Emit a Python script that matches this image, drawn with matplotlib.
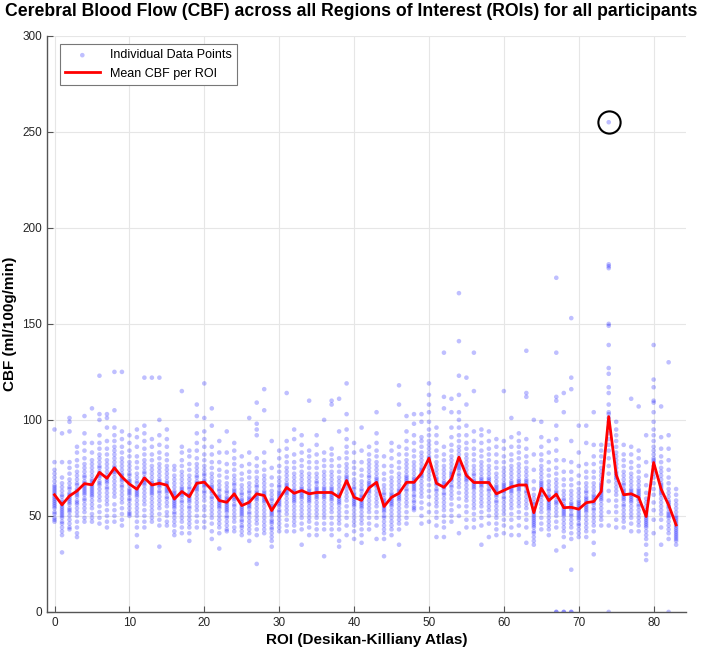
import numpy as np
import matplotlib
matplotlib.use('Agg')
import matplotlib.pyplot as plt

plt.rcParams['font.family'] = ['Liberation Sans', 'DejaVu Sans']

# ROI index 0..83
rois = list(range(84))

# mean CBF per ROI (red line)
mean_cbf = [61.0, 55.8, 60.4, 63.0, 66.8, 66.2, 72.7, 69.6, 75.0, 70.3,
            66.6, 63.9, 69.8, 66.1, 67.0, 66.0, 58.8, 62.7, 60.0, 67.0,
            67.6, 63.5, 58.0, 57.1, 61.5, 55.4, 57.1, 61.5, 60.6, 52.8,
            58.9, 64.8, 61.8, 63.2, 61.5, 62.2, 62.2, 62.2, 59.7, 68.4,
            59.7, 58.1, 64.6, 67.5, 54.9, 59.7, 61.8, 67.5, 67.5, 72.2,
            80.0, 67.0, 64.9, 69.3, 80.6, 71.1, 67.4, 67.4, 67.4, 61.5,
            63.3, 65.1, 66.1, 66.1, 51.7, 64.4, 58.0, 61.3, 54.3, 54.5,
            53.5, 56.9, 57.5, 62.7, 101.7, 71.4, 61.0, 61.5, 59.7, 49.7,
            77.8, 63.9, 55.7, 45.3]

# individual participant values per ROI
cbf_points = [
    [47, 48, 49, 51, 52, 54, 55, 56, 57, 58, 59, 60, 61, 62, 63, 64, 65, 66, 68, 70, 72, 74, 78, 95],
    [31, 40, 42, 44, 46, 47, 49, 50, 51, 52, 53, 54, 55, 56, 57, 58, 60, 61, 63, 65, 67, 70, 78, 93],
    [43, 44, 46, 48, 50, 52, 53, 54, 56, 57, 58, 59, 60, 61, 62, 64, 65, 67, 69, 72, 75, 78, 94, 99, 101],
    [39, 41, 44, 47, 50, 52, 54, 56, 57, 58, 60, 61, 62, 63, 64, 66, 67, 69, 71, 73, 76, 79, 83, 86],
    [47, 49, 52, 54, 56, 58, 59, 61, 62, 63, 64, 65, 66, 67, 68, 70, 71, 73, 75, 77, 80, 84, 88, 93, 102],
    [47, 49, 51, 54, 56, 58, 60, 61, 62, 63, 64, 65, 66, 67, 68, 69, 71, 73, 75, 77, 79, 83, 88, 106],
    [46, 49, 52, 55, 58, 60, 62, 64, 66, 67, 68, 70, 71, 72, 73, 75, 76, 78, 80, 82, 85, 88, 92, 100, 103, 123],
    [44, 47, 50, 53, 56, 58, 60, 62, 64, 65, 67, 68, 69, 70, 71, 73, 75, 77, 79, 82, 85, 89, 96, 101, 103],
    [47, 50, 53, 56, 60, 62, 64, 66, 68, 70, 72, 73, 74, 75, 76, 78, 80, 82, 84, 86, 89, 92, 96, 105, 125],
    [45, 48, 51, 54, 57, 59, 61, 63, 65, 66, 68, 69, 70, 71, 72, 74, 76, 78, 80, 83, 86, 90, 94, 125],
    [50, 51, 52, 54, 56, 58, 59, 61, 62, 63, 64, 66, 67, 68, 69, 71, 72, 74, 76, 78, 81, 84, 88, 92],
    [34, 40, 44, 47, 50, 52, 54, 56, 58, 60, 61, 62, 63, 64, 65, 67, 68, 70, 72, 75, 78, 81, 86, 91, 95],
    [44, 47, 50, 53, 56, 58, 60, 62, 64, 66, 67, 68, 69, 70, 72, 73, 75, 77, 79, 82, 85, 89, 93, 97, 122],
    [47, 49, 51, 53, 55, 57, 59, 61, 62, 63, 64, 65, 66, 67, 68, 70, 72, 74, 76, 79, 82, 86, 90, 122],
    [34, 45, 48, 51, 54, 56, 58, 60, 62, 63, 65, 66, 67, 68, 69, 71, 73, 75, 77, 80, 83, 87, 92, 100, 122],
    [45, 47, 50, 52, 55, 57, 59, 60, 62, 63, 64, 65, 66, 67, 68, 70, 72, 74, 76, 79, 82, 86, 90, 95],
    [40, 42, 45, 47, 49, 51, 52, 54, 55, 56, 57, 58, 59, 60, 61, 62, 63, 65, 67, 69, 71, 74, 76],
    [41, 44, 47, 49, 51, 53, 55, 57, 58, 60, 61, 62, 63, 64, 65, 67, 69, 71, 73, 76, 79, 83, 86, 115],
    [37, 41, 44, 46, 48, 50, 52, 54, 55, 57, 58, 59, 60, 61, 62, 64, 65, 67, 69, 71, 74, 77, 81, 84],
    [44, 47, 50, 53, 55, 57, 59, 61, 63, 64, 65, 66, 67, 68, 70, 71, 73, 75, 77, 80, 84, 88, 93, 102, 108],
    [44, 47, 50, 53, 55, 58, 60, 62, 63, 65, 66, 67, 68, 69, 71, 72, 74, 76, 79, 82, 86, 90, 94, 101, 119],
    [38, 42, 46, 49, 51, 53, 55, 57, 59, 60, 62, 63, 64, 65, 66, 68, 70, 72, 75, 78, 82, 86, 97, 106],
    [33, 41, 44, 46, 48, 50, 52, 54, 55, 56, 57, 58, 59, 60, 61, 63, 64, 66, 68, 71, 74, 78, 83, 89],
    [42, 43, 45, 47, 49, 50, 52, 53, 54, 55, 56, 57, 58, 59, 60, 62, 63, 65, 67, 70, 73, 77, 83, 94],
    [42, 44, 47, 49, 51, 53, 55, 56, 58, 59, 60, 61, 62, 63, 64, 66, 67, 69, 71, 74, 77, 80, 84, 88],
    [40, 42, 44, 45, 47, 48, 50, 51, 52, 53, 54, 55, 56, 57, 58, 59, 61, 62, 64, 66, 69, 72, 76, 81],
    [37, 41, 43, 45, 47, 49, 51, 52, 54, 55, 56, 57, 58, 59, 60, 62, 63, 65, 67, 70, 73, 77, 83, 101],
    [25, 40, 43, 46, 48, 50, 52, 54, 56, 58, 59, 60, 61, 62, 63, 65, 66, 68, 70, 73, 76, 80, 92, 95, 98, 109],
    [41, 43, 45, 47, 49, 51, 53, 55, 57, 58, 59, 60, 61, 62, 63, 65, 67, 69, 71, 74, 78, 83, 105, 116],
    [34, 37, 39, 41, 43, 44, 46, 47, 48, 50, 51, 52, 53, 54, 55, 56, 58, 59, 61, 63, 66, 70, 75, 89],
    [42, 44, 46, 48, 50, 52, 53, 55, 56, 57, 58, 59, 60, 61, 62, 63, 65, 66, 68, 70, 73, 76, 80, 84],
    [42, 45, 48, 51, 53, 55, 57, 59, 61, 62, 63, 64, 65, 66, 67, 69, 71, 73, 75, 78, 81, 85, 89, 114],
    [42, 45, 47, 49, 51, 53, 55, 57, 58, 59, 60, 61, 62, 63, 64, 66, 68, 70, 72, 75, 78, 82, 90, 95],
    [35, 43, 46, 49, 51, 53, 55, 57, 59, 60, 61, 62, 63, 64, 65, 67, 69, 71, 73, 76, 79, 83, 87, 92],
    [40, 44, 47, 49, 51, 53, 55, 57, 58, 59, 60, 61, 62, 63, 64, 66, 68, 70, 72, 75, 78, 81, 84, 110],
    [40, 43, 46, 49, 51, 53, 55, 57, 59, 60, 61, 62, 63, 64, 65, 67, 68, 70, 72, 75, 78, 82, 87, 92],
    [29, 43, 46, 49, 51, 53, 55, 57, 59, 60, 61, 62, 63, 64, 65, 67, 69, 71, 73, 76, 79, 83, 100],
    [40, 43, 46, 49, 52, 54, 56, 58, 59, 60, 61, 62, 63, 64, 65, 67, 69, 71, 73, 76, 79, 82, 85, 108, 110],
    [34, 37, 43, 46, 48, 50, 52, 54, 56, 57, 58, 59, 60, 61, 62, 64, 66, 68, 70, 73, 76, 80, 94, 111],
    [40, 45, 49, 52, 55, 58, 60, 62, 64, 66, 67, 68, 69, 70, 71, 73, 75, 77, 80, 83, 86, 90, 95, 103, 119],
    [38, 42, 45, 47, 49, 51, 53, 55, 56, 57, 58, 59, 60, 61, 62, 64, 65, 67, 69, 72, 75, 78, 83, 88],
    [36, 40, 43, 46, 48, 50, 52, 54, 55, 56, 57, 58, 59, 60, 61, 63, 64, 66, 68, 71, 74, 78, 84, 96],
    [43, 46, 49, 52, 54, 56, 58, 60, 62, 63, 64, 65, 66, 67, 68, 70, 71, 73, 75, 77, 79, 82, 86],
    [38, 45, 49, 52, 55, 57, 59, 61, 63, 65, 66, 67, 68, 69, 70, 72, 74, 76, 78, 81, 84, 88, 93, 104],
    [29, 38, 41, 43, 45, 47, 49, 50, 52, 53, 54, 55, 56, 57, 58, 59, 61, 62, 64, 66, 69, 72, 76, 81],
    [40, 43, 45, 47, 49, 51, 53, 55, 56, 57, 58, 59, 60, 61, 62, 64, 66, 68, 70, 73, 76, 80, 84, 88],
    [35, 43, 46, 48, 50, 52, 54, 56, 58, 59, 60, 61, 62, 63, 64, 66, 68, 70, 72, 75, 78, 82, 86, 108, 118],
    [46, 49, 52, 55, 57, 59, 61, 63, 64, 66, 67, 68, 69, 70, 71, 73, 75, 77, 79, 82, 85, 89, 94, 102],
    [53, 54, 55, 57, 58, 60, 61, 63, 64, 65, 66, 67, 68, 69, 70, 72, 74, 76, 78, 81, 84, 88, 92, 98, 103],
    [46, 50, 54, 57, 60, 62, 64, 66, 68, 70, 71, 72, 73, 74, 75, 77, 79, 81, 83, 86, 89, 91, 99, 103],
    [47, 52, 56, 60, 63, 66, 69, 71, 73, 75, 77, 79, 80, 81, 83, 85, 87, 89, 92, 95, 99, 104, 108, 113, 119],
    [39, 45, 49, 52, 55, 57, 59, 61, 63, 64, 66, 67, 68, 69, 70, 72, 74, 76, 78, 81, 84, 88, 92, 96],
    [39, 44, 47, 50, 53, 55, 57, 59, 61, 62, 64, 65, 66, 67, 68, 70, 72, 74, 76, 79, 82, 86, 106, 112, 135],
    [47, 50, 53, 56, 59, 61, 63, 65, 66, 68, 69, 70, 71, 72, 73, 75, 77, 79, 81, 84, 87, 91, 96, 104, 111],
    [41, 50, 55, 59, 62, 65, 67, 69, 71, 72, 74, 75, 76, 77, 78, 80, 82, 84, 86, 89, 92, 96, 100, 104, 113, 123, 141, 166],
    [44, 48, 52, 55, 58, 60, 62, 64, 66, 68, 69, 70, 71, 72, 74, 76, 78, 80, 82, 85, 88, 92, 97, 108, 122],
    [44, 48, 51, 54, 56, 58, 60, 62, 64, 65, 66, 67, 68, 69, 71, 72, 74, 76, 79, 82, 85, 89, 94, 115, 135],
    [35, 45, 49, 52, 55, 57, 59, 61, 63, 65, 66, 67, 68, 69, 70, 72, 74, 76, 78, 81, 84, 88, 92, 95],
    [39, 46, 50, 53, 55, 57, 59, 61, 63, 64, 66, 67, 68, 69, 70, 72, 74, 76, 79, 82, 85, 89, 94],
    [40, 43, 46, 49, 51, 53, 55, 57, 58, 60, 61, 62, 63, 64, 65, 66, 68, 70, 72, 75, 78, 82, 86, 90],
    [41, 45, 48, 51, 53, 55, 57, 59, 60, 62, 63, 64, 65, 66, 67, 69, 71, 73, 75, 78, 81, 85, 89, 115],
    [40, 44, 48, 51, 54, 56, 58, 60, 62, 63, 64, 65, 66, 67, 68, 70, 72, 74, 76, 79, 82, 86, 91, 101],
    [40, 45, 49, 52, 55, 57, 59, 61, 63, 64, 65, 66, 67, 68, 69, 71, 73, 75, 77, 80, 83, 86, 89, 93],
    [36, 44, 48, 51, 54, 56, 58, 60, 62, 63, 65, 66, 67, 68, 69, 71, 73, 75, 78, 81, 85, 90, 112, 114, 136],
    [35, 37, 39, 41, 42, 44, 45, 46, 47, 48, 49, 50, 51, 52, 53, 54, 56, 57, 59, 61, 64, 68, 74, 82, 100],
    [43, 46, 49, 52, 54, 56, 58, 60, 61, 63, 64, 65, 66, 67, 68, 70, 72, 74, 76, 79, 82, 86, 91, 99],
    [40, 43, 45, 47, 49, 51, 53, 54, 55, 56, 57, 58, 59, 60, 61, 63, 64, 66, 68, 71, 74, 78, 83, 89],
    [0, 0, 32, 44, 47, 50, 52, 54, 56, 57, 58, 60, 61, 62, 63, 65, 67, 69, 72, 75, 79, 84, 90, 97, 110, 112, 135, 174],
    [0, 0, 34, 39, 42, 44, 46, 48, 50, 51, 52, 53, 54, 55, 56, 58, 59, 61, 63, 66, 69, 73, 79, 104, 114],
    [0, 0, 22, 38, 41, 44, 46, 48, 50, 51, 53, 54, 55, 56, 57, 59, 61, 63, 66, 69, 73, 78, 89, 116, 122, 153],
    [39, 41, 43, 45, 46, 48, 49, 50, 51, 52, 53, 54, 55, 56, 57, 58, 60, 62, 64, 67, 71, 76, 83, 97],
    [39, 42, 44, 46, 48, 50, 52, 53, 54, 55, 56, 57, 58, 59, 60, 62, 63, 65, 67, 70, 73, 77, 88, 97],
    [30, 36, 42, 45, 47, 49, 51, 53, 54, 56, 57, 58, 59, 60, 61, 63, 65, 67, 70, 73, 77, 81, 87, 104],
    [45, 48, 50, 52, 54, 56, 58, 59, 60, 61, 62, 63, 64, 65, 66, 67, 69, 71, 73, 75, 78, 81, 84, 87],
    [0, 45, 52, 58, 63, 68, 72, 76, 80, 84, 87, 90, 93, 96, 99, 101, 103, 104, 108, 114, 117, 124, 127, 139, 149, 150, 179, 180, 181, 255],
    [44, 48, 52, 55, 58, 61, 63, 65, 67, 69, 70, 71, 72, 73, 75, 77, 79, 81, 83, 86, 89, 92, 95, 99],
    [44, 47, 49, 51, 53, 55, 56, 58, 59, 60, 61, 62, 63, 64, 66, 67, 69, 71, 73, 76, 79, 82, 87],
    [42, 46, 49, 51, 53, 55, 57, 58, 59, 60, 61, 62, 63, 64, 66, 68, 70, 72, 75, 78, 82, 86, 111],
    [42, 45, 47, 49, 51, 53, 55, 56, 58, 59, 60, 61, 62, 63, 64, 66, 68, 70, 73, 76, 80, 84, 107],
    [27, 30, 35, 38, 40, 42, 44, 45, 46, 47, 48, 49, 50, 51, 52, 53, 55, 57, 59, 62, 66, 71, 78, 92],
    [41, 48, 53, 57, 61, 64, 67, 70, 72, 74, 76, 78, 79, 80, 82, 84, 86, 89, 92, 95, 99, 104, 109, 110, 117, 121, 139],
    [35, 44, 48, 51, 53, 55, 57, 59, 61, 62, 63, 64, 65, 66, 67, 69, 71, 73, 75, 78, 81, 85, 91, 107],
    [0, 38, 41, 43, 45, 47, 49, 50, 51, 52, 54, 55, 56, 57, 58, 60, 62, 64, 67, 70, 74, 79, 85, 92, 130],
    [35, 37, 38, 39, 40, 41, 42, 43, 44, 45, 46, 47, 48, 49, 50, 52, 54, 56, 58, 61, 64],
]

# highlighted outlier
outlier_roi = 74
outlier_val = 255

xs = []
ys = []
for r, vals in zip(rois, cbf_points):
    xs.extend([r] * len(vals))
    ys.extend(vals)

fig = plt.figure(figsize=(7.02, 6.51), dpi=100)
ax = fig.add_axes([0.067, 0.06, 0.91, 0.885])

ax.scatter(xs, ys, s=11, color='blue', alpha=0.25, edgecolors='none',
           label='Individual Data Points', zorder=2)
ax.plot(rois, mean_cbf, color='red', lw=2, label='Mean CBF per ROI', zorder=3)
ax.plot([outlier_roi], [outlier_val], 'o', ms=16, mfc='none', mec='black',
        mew=1.5, zorder=4)

ax.set_xlim(-1, 84.3)
ax.set_ylim(0, 300)
ax.set_xticks(range(0, 81, 10))
ax.set_yticks(range(0, 301, 50))
ax.grid(True, color='#e6e6e6', lw=0.8)
ax.set_axisbelow(True)
for side in ['top', 'right']:
    ax.spines[side].set_visible(False)
for side in ['left', 'bottom']:
    ax.spines[side].set_color('#555555')
    ax.spines[side].set_linewidth(1.0)
ax.tick_params(direction='in', length=4, labelsize=8.5, colors='#555555',
               labelcolor='#262626')

fig.text(0.5, 0.982, 'Cerebral Blood Flow (CBF) across all Regions of Interest (ROIs) for all participants',
         ha='center', va='center', fontsize=12.7, fontweight='bold')
ax.set_xlabel('ROI (Desikan-Killiany Atlas)', fontsize=11, fontweight='bold', labelpad=3)
ax.set_ylabel('CBF (ml/100g/min)', fontsize=11, fontweight='bold', labelpad=4)

leg = ax.legend(loc='upper left', bbox_to_anchor=(0.02, 0.985), borderaxespad=0,
                fontsize=9, fancybox=False, edgecolor='#777777', framealpha=1,
                handlelength=2.8, markerscale=1.0)
leg.get_frame().set_linewidth(0.8)

fig.savefig('out.png', dpi=100)
